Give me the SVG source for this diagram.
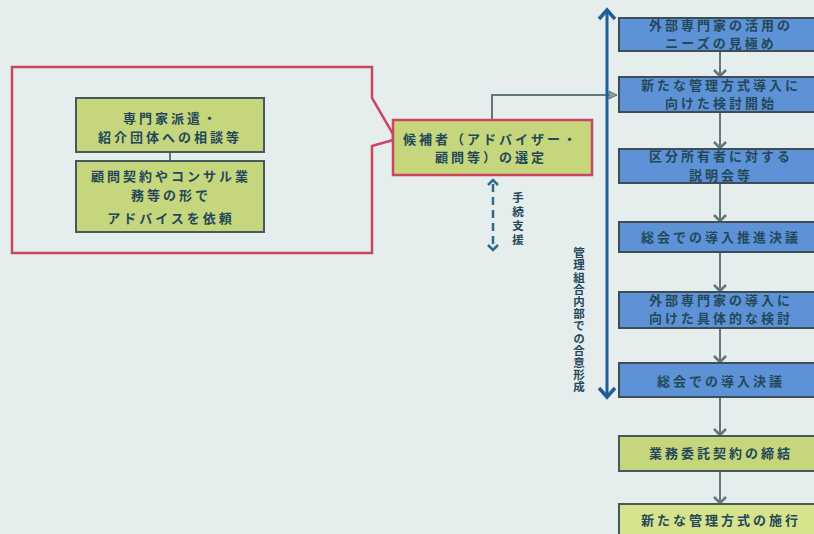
<svg xmlns="http://www.w3.org/2000/svg" width="814" height="534" viewBox="0 0 814 534">
<defs>
<style>
.t{font-family:"Noto Sans CJK JP","Noto Sans CJK SC",sans-serif;font-weight:bold;font-size:13px;letter-spacing:3px;fill:#24485a;text-anchor:middle}
.v{font-family:"Noto Sans CJK JP","Noto Sans CJK SC",sans-serif;font-weight:bold;font-size:11.5px;fill:#24485a;writing-mode:vertical-rl;text-anchor:start}
.blue{fill:#5d93d6;stroke:#3d4e56;stroke-width:2}
.green{fill:#c6d67c;stroke:#45595e;stroke-width:2}
.light{fill:#d8e48c;stroke:#45595e;stroke-width:2}
.cand{fill:#c6d67c;stroke:#cc4660;stroke-width:2.5}
.flow{stroke:#5f777d;stroke-width:2;fill:none}
.chev{stroke:#5f777d;stroke-width:2.5;fill:none}
</style>
</defs>
<rect x="0" y="0" width="814" height="534" fill="#e5eded"/>

<g id="callout">
<path d="M372,98 L372,67 L12,67 L12,253 L372,253 L372,146 L393,140 L393,134 Z" fill="#e5eded" stroke="#cc4660" stroke-width="2.5" stroke-linejoin="miter"/>
</g>

<g id="connectors">
<line x1="170" y1="152" x2="170" y2="161" class="flow"/>
<polyline points="492,120 492,95 617,95" class="flow"/>
<path d="M609,91 L617,95 L609,99 Z" fill="#8aa0a4" stroke="#5f777d" stroke-width="1"/>
<line x1="720" y1="51" x2="720" y2="76" class="flow"/>
<line x1="720" y1="112" x2="720" y2="148" class="flow"/>
<line x1="720" y1="183" x2="720" y2="221" class="flow"/>
<line x1="720" y1="252" x2="720" y2="291" class="flow"/>
<line x1="720" y1="328" x2="720" y2="362" class="flow"/>
<line x1="720" y1="397" x2="720" y2="435" class="flow"/>
<line x1="720" y1="471" x2="720" y2="503" class="flow"/>
<polyline points="714,70 720,76 726,70" class="chev"/>
<polyline points="714,142 720,148 726,142" class="chev"/>
<polyline points="714,215 720,221 726,215" class="chev"/>
<polyline points="714,285 720,291 726,285" class="chev"/>
<polyline points="714,356 720,362 726,356" class="chev"/>
<polyline points="714,429 720,435 726,429" class="chev"/>
<polyline points="714,497 720,503 726,497" class="chev"/>
<line x1="607" y1="10" x2="607" y2="396" stroke="#1f5f98" stroke-width="3"/>
<polyline points="599,19 607,10 615,19" fill="none" stroke="#1f5f98" stroke-width="3.5"/>
<polyline points="599,388 607,397 615,388" fill="none" stroke="#1f5f98" stroke-width="3.5"/>
<line x1="493" y1="184" x2="493" y2="246" stroke="#2f6b8c" stroke-width="2.5" stroke-dasharray="8,5"/>
<polyline points="488,185 493,180 498,185" fill="none" stroke="#2f6b8c" stroke-width="2.5"/>
<polyline points="488,245 493,250 498,245" fill="none" stroke="#2f6b8c" stroke-width="2.5"/>
</g>

<g id="n-haken">
<rect x="76" y="98" width="188" height="54" class="green"/>
<text class="t" x="171" y="122.5">専門家派遣・</text>
<text class="t" x="170" y="141.5">紹介団体への相談等</text>
</g>
<g id="n-komon">
<rect x="76" y="161" width="188" height="71" class="green"/>
<text class="t" x="171" y="180.5">顧問契約やコンサル業</text>
<text class="t" x="171" y="199.5">務等の形で</text>
<text class="t" x="171" y="222.5">アドバイスを依頼</text>
</g>
<g id="n-candidate">
<rect x="393" y="120" width="199" height="55" class="cand"/>
<text class="t" x="491" y="143.5">候補者（アドバイザー・</text>
<text class="t" x="491" y="161.5">顧問等）の選定</text>
</g>
<g id="n-support">
<text class="v" x="518" y="192" style="letter-spacing:2.5px">手続支援</text>
</g>
<g id="n-consensus">
<text class="v" x="579" y="247" style="letter-spacing:0.7px">管理組合内部での合意形成</text>
</g>

<g id="s1">
<rect x="619" y="18" width="200" height="33" class="blue"/>
<text class="t" x="721" y="29.5">外部専門家の活用の</text>
<text class="t" x="721" y="47.5">ニーズの見極め</text>
</g>
<g id="s2">
<rect x="619" y="77" width="200" height="35" class="blue"/>
<text class="t" x="721" y="89.5">新たな管理方式導入に</text>
<text class="t" x="721" y="107.5">向けた検討開始</text>
</g>
<g id="s3">
<rect x="619" y="149" width="200" height="34" class="blue"/>
<text class="t" x="721" y="160.5">区分所有者に対する</text>
<text class="t" x="721" y="179.5">説明会等</text>
</g>
<g id="s4">
<rect x="619" y="222" width="200" height="30" class="blue"/>
<text class="t" x="721" y="241.5">総会での導入推進決議</text>
</g>
<g id="s5">
<rect x="619" y="292" width="200" height="36" class="blue"/>
<text class="t" x="721" y="305">外部専門家の導入に</text>
<text class="t" x="721" y="323">向けた具体的な検討</text>
</g>
<g id="s6">
<rect x="619" y="363" width="200" height="34" class="blue"/>
<text class="t" x="721" y="385.5">総会での導入決議</text>
</g>
<g id="s7">
<rect x="619" y="436" width="200" height="35" class="green"/>
<text class="t" x="721" y="457.5">業務委託契約の締結</text>
</g>
<g id="s8">
<rect x="619" y="504" width="200" height="40" class="light"/>
<text class="t" x="721" y="524.5">新たな管理方式の施行</text>
</g>
</svg>
